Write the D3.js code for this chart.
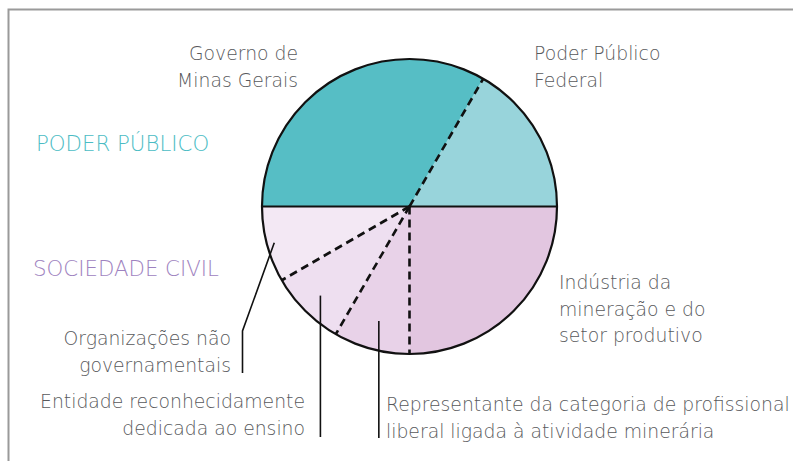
<!DOCTYPE html>
<html>
<head>
<meta charset="utf-8">
<script src="https://cdn.jsdelivr.net/npm/d3@7"></script>
<style>
  html, body { margin: 0; padding: 0; background: #fff; }
  svg { display: block; }
  text { font-family: "DejaVu Sans", "Open Sans", sans-serif; font-weight: 200; }
</style>
</head>
<body>
<svg id="chart" width="793" height="461"></svg>
<script>
// Seat composition of the council: public power vs. civil society
const categories = [
  "Governo de Minas Gerais",
  "Poder Público Federal",
  "Indústria da mineração e do setor produtivo",
  "Representante da categoria de profissional liberal ligada à atividade minerária",
  "Entidade reconhecidamente dedicada ao ensino",
  "Organizações não governamentais"
];
const seats = [4, 2, 3, 1, 1, 1];
const sectors = ["Poder Público", "Poder Público", "Sociedade Civil", "Sociedade Civil", "Sociedade Civil", "Sociedade Civil"];
const sliceColors = ["#56bec5", "#98d4db", "#e2c6e0", "#e8d2e8", "#eedff0", "#f3e8f4"];
const labelLines = [
  ["Governo de", "Minas Gerais"],
  ["Poder Público", "Federal"],
  ["Indústria da", "mineração e do", "setor produtivo"],
  ["Representante da categoria de profissional", "liberal ligada à atividade minerária"],
  ["Entidade reconhecidamente", "dedicada ao ensino"],
  ["Organizações não", "governamentais"]
];
const sectorTitles = ["PODER PÚBLICO", "SOCIEDADE CIVIL"];
const sectorColors = ["#4bbcc4", "#9e82c0"];

const svg = d3.select("#chart");
const W = 793, H = 461;
const cx = 409.5, cy = 206.5, R = 147.5;
const textColor = "#58595c";

// frame (top and left rules)
svg.append("path")
  .attr("d", `M8.5,${H} L8.5,9.5 L${W},9.5`)
  .attr("fill", "none")
  .attr("stroke", "#9a9a9a")
  .attr("stroke-width", 2);

const data = categories.map((c, i) => ({ name: c, seats: seats[i], sector: sectors[i], color: sliceColors[i], lines: labelLines[i] }));

const pie = d3.pie()
  .sort(null)
  .value(d => d.seats)
  .startAngle(-Math.PI / 2)
  .endAngle(1.5 * Math.PI);
const arcs = pie(data);
const arc = d3.arc().innerRadius(0).outerRadius(R);

const g = svg.append("g").attr("transform", `translate(${cx},${cy})`);

g.selectAll("path.slice")
  .data(arcs)
  .join("path")
  .attr("class", "slice")
  .attr("d", arc)
  .attr("fill", d => d.data.color)
  .attr("stroke", d => d.data.color)
  .attr("stroke-width", 0.5);

// radial boundaries: solid between sectors, dashed inside a sector
const pt = (a, r) => [Math.sin(a) * r, -Math.cos(a) * r];
arcs.forEach((d, i) => {
  const prev = arcs[(i + arcs.length - 1) % arcs.length];
  const sameSector = prev.data.sector === d.data.sector;
  const [x, y] = pt(d.startAngle, R);
  g.append("line")
    .attr("x1", 0).attr("y1", 0)
    .attr("x2", x).attr("y2", y)
    .attr("stroke", "#111")
    .attr("stroke-width", sameSector ? 2.6 : 2.2)
    .attr("stroke-dasharray", sameSector ? "8,5" : null);
});

// outline
g.append("circle")
  .attr("r", R)
  .attr("fill", "none")
  .attr("stroke", "#111")
  .attr("stroke-width", 2.2);

// leader lines for the small civil-society slices
const mid = d => (d.startAngle + d.endAngle) / 2;
const leader = d3.line();
const [ongX, ongY] = pt(mid(arcs[5]), 140);
const [entX, entY] = pt(mid(arcs[4]), 126);
const [repX, repY] = pt(mid(arcs[3]), 118.5);
const leaders = [
  [[ongX, ongY], [242.5 - cx, 331 - cy], [242.5 - cx, 373 - cy]],
  [[entX, entY], [entX, 437 - cy]],
  [[repX, repY], [repX, 438 - cy]]
];
g.selectAll("path.leader")
  .data(leaders)
  .join("path")
  .attr("class", "leader")
  .attr("d", leader)
  .attr("fill", "none")
  .attr("stroke", "#111")
  .attr("stroke-width", 1.6);

// category labels
const labelPos = [
  { x: 298, y: 60, anchor: "end" },
  { x: 534, y: 60, anchor: "start" },
  { x: 559, y: 289, anchor: "start" },
  { x: 386, y: 411, anchor: "start" },
  { x: 305, y: 408, anchor: "end" },
  { x: 231, y: 345, anchor: "end" }
];
const lineH = 26.5;
data.forEach((d, i) => {
  const p = labelPos[i];
  const t = svg.append("text")
    .attr("x", p.x).attr("y", p.y)
    .attr("text-anchor", p.anchor)
    .attr("fill", textColor)
    .style("font-size", "18.8px");
  d.lines.forEach((ln, j) => {
    t.append("tspan").attr("x", p.x).attr("y", p.y + j * lineH).text(ln);
  });
});

// sector titles
const titlePos = [{ x: 36, y: 151 }, { x: 33, y: 276 }];
sectorTitles.forEach((s, i) => {
  svg.append("text")
    .attr("x", titlePos[i].x).attr("y", titlePos[i].y)
    .attr("fill", sectorColors[i])
    .style("font-size", "21.3px")
    .text(s);
});
</script>
</body>
</html>
